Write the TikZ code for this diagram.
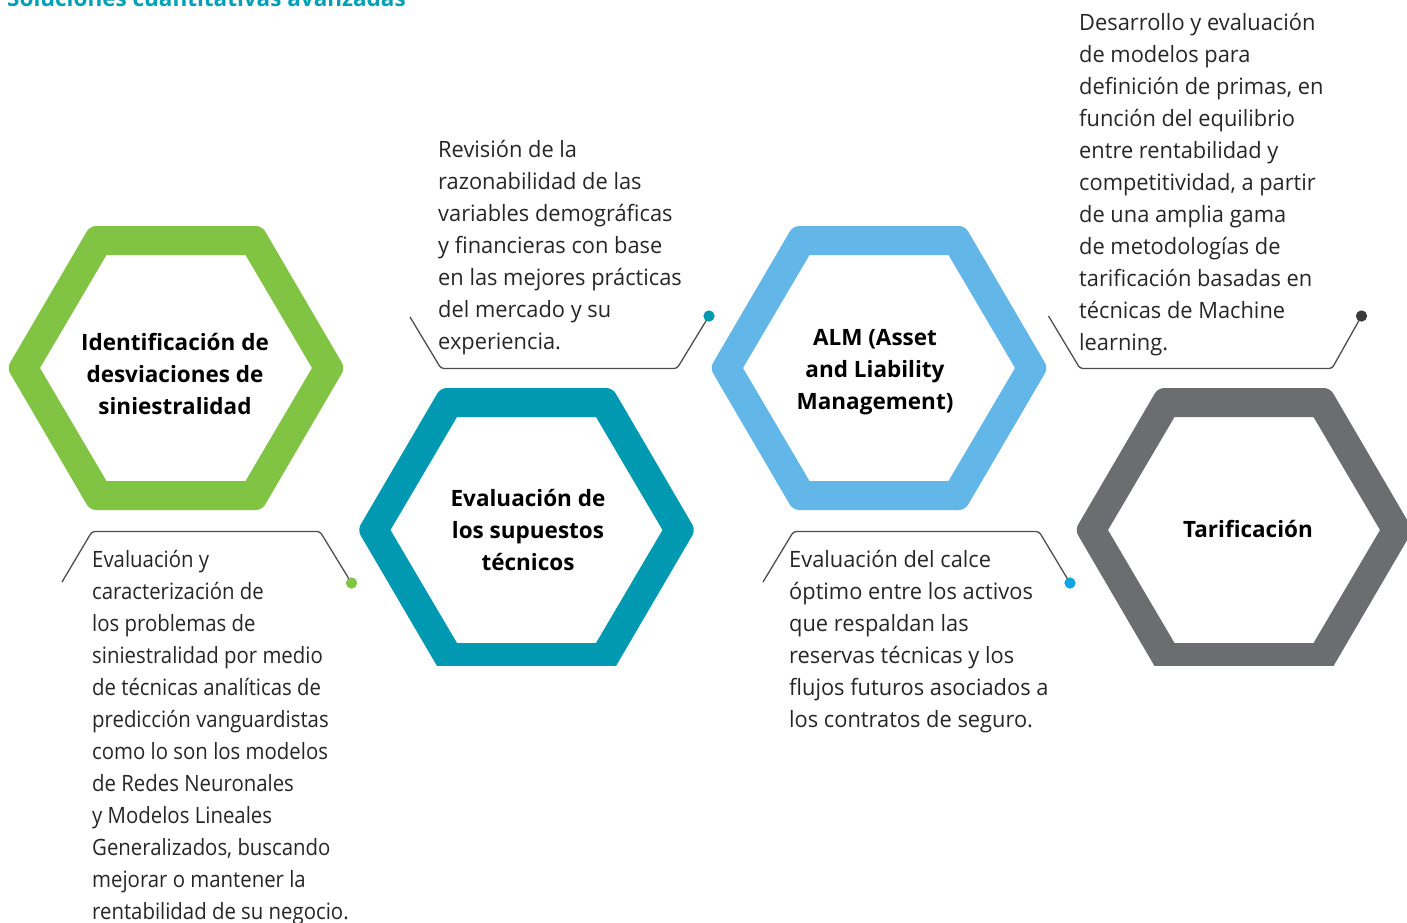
\documentclass[tikz,border=0pt]{standalone}
\usepackage{fontspec}
\setmainfont{Open Sans}
\newfontfamily\descfont{Open Sans}[FakeStretch=0.97]
\newfontfamily\desctight{Open Sans}[FakeStretch=0.905]
\definecolor{hgreen}{HTML}{81C342}
\definecolor{hteal}{HTML}{0099B2}
\definecolor{hblue}{HTML}{62B7E8}
\definecolor{hgray}{HTML}{6C6D71}
\definecolor{titleteal}{HTML}{00A1B4}
\definecolor{dotblue}{HTML}{12A5E3}
\definecolor{dotdark}{HTML}{3B3B3D}
\definecolor{linecol}{HTML}{4D4D4D}
\definecolor{txt}{HTML}{262626}
\begin{document}
\begin{tikzpicture}[x=1pt,y=-1pt,
  desc/.style={anchor=base west,inner sep=0pt,text=txt,font=\descfont\fontsize{22.5}{32}\selectfont},
  desctightstyle/.style={desc,font=\desctight\fontsize{22.5}{32}\selectfont},
  hexlabel/.style={anchor=base,inner sep=0pt,text=black,font=\bfseries\fontsize{22.5}{32}\selectfont},
  callout/.style={draw=linecol,line width=1.3pt,rounded corners=3pt},
  dotmark/.style={circle,inner sep=0pt,minimum size=11pt},
  pics/hexring/.style={code={
    \fill[#1,even odd rule] [rounded corners=6pt]
      (0,-142) -- (86,-142) -- (169,0) -- (86,142) -- (-86,142) -- (-169,0) -- (-86,-142) -- cycle
      [sharp corners]
      (-69.5,-113) -- (69.5,-113) -- (136,0) -- (69.5,113) -- (-69.5,113) -- (-136,0) -- cycle;
  }}]
\useasboundingbox (0,0) rectangle (1407,922);

% title (cut at the top edge)
\node[anchor=base west,inner sep=0pt,text=titleteal,font=\bfseries\fontsize{22.5}{32}\selectfont] (title) at (7,6) {Soluciones cuantitativas avanzadas};

% hexagon rings
\pic at (176,368) {hexring=hgreen};
\pic at (879,368) {hexring=hblue};
\begin{scope}
  \clip (0,0) rectangle (1407,665);
  \pic at (526.5,530) {hexring=hteal};
  \pic at (1244,530) {hexring=hgray};
\end{scope}

% hexagon labels
\node[hexlabel] (l1) at (175,350) {\begin{tabular}[t]{@{}c@{}}Identificación de\\desviaciones de\\siniestralidad\end{tabular}};
\node[hexlabel] (l2) at (528,506) {\begin{tabular}[t]{@{}c@{}}Evaluación de\\los supuestos\\técnicos\end{tabular}};
\node[hexlabel] (l3) at (875,345) {\begin{tabular}[t]{@{}c@{}}ALM (Asset\\and Liability\\Management)\end{tabular}};
\node[hexlabel] (l4) at (1248,537) {Tarificación};

% description texts
\node[desc] (tb) at (438,157) {\begin{tabular}[t]{@{}l@{}}Revisión de la\\razonabilidad de las\\variables demográficas\\y financieras con base\\en las mejores prácticas\\del mercado y su\\experiencia.\end{tabular}};
\node[desctightstyle] (ta) at (92,567) {\begin{tabular}[t]{@{}l@{}}Evaluación y\\caracterización de\\los problemas de\\siniestralidad por medio\\de técnicas analíticas de\\predicción vanguardistas\\como lo son los modelos\\de Redes Neuronales\\y Modelos Lineales\\Generalizados, buscando\\mejorar o mantener la\\rentabilidad de su negocio.\end{tabular}};
\node[desc] (tc) at (789,567) {\begin{tabular}[t]{@{}l@{}}Evaluación del calce\\óptimo entre los activos\\que respaldan las\\reservas técnicas y los\\flujos futuros asociados a\\los contratos de seguro.\end{tabular}};
\node[desc] (td) at (1079,30) {\begin{tabular}[t]{@{}l@{}}Desarrollo y evaluación\\de modelos para\\definición de primas, en\\función del equilibrio\\entre rentabilidad y\\competitividad, a partir\\de una amplia gama\\de metodologías de\\tarificación basadas en\\técnicas de Machine\\learning.\end{tabular}};

% callout connectors
\coordinate (b0) at (410,317);
\coordinate (b1) at (441,368.5);
\coordinate (b2) at (677,368.5);
\node[dotmark,fill=hteal] (bd) at (709,316) {};
\draw[callout] (b0) -- (b1) -- (b2) -- (bd.center);
\fill[hteal] (bd) circle (5.5pt);

\coordinate (a0) at (62,582);
\coordinate (a1) at (92,531.5);
\coordinate (a2) at (320,531.5);
\node[dotmark,fill=hgreen] (ad) at (351.5,583) {};
\draw[callout] (a0) -- (a1) -- (a2) -- (ad.center);
\fill[hgreen] (ad) circle (5.5pt);

\coordinate (c0) at (763,582);
\coordinate (c1) at (793.5,531.5);
\coordinate (c2) at (1039,531.5);
\node[dotmark,fill=dotblue] (cd) at (1070,583) {};
\draw[callout] (c0) -- (c1) -- (c2) -- (cd.center);
\fill[dotblue] (cd) circle (5.5pt);

\coordinate (d0) at (1048.5,316);
\coordinate (d1) at (1080,368.5);
\coordinate (d2) at (1332,368.5);
\node[dotmark,fill=dotdark] (dd) at (1361.5,316) {};
\draw[callout] (d0) -- (d1) -- (d2) -- (dd.center);
\fill[dotdark] (dd) circle (5.5pt);
\end{tikzpicture}
\end{document}
